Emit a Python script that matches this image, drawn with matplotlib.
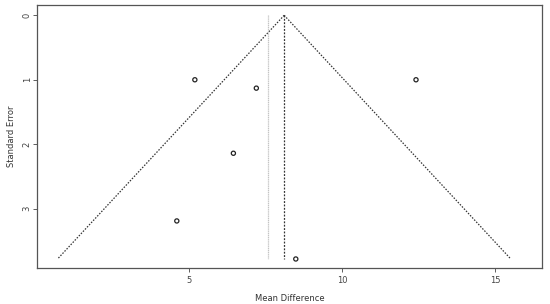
import numpy as np
import matplotlib.pyplot as plt

# study estimates for the funnel plot
mean_diff = [5.19, 7.20, 6.45, 4.60, 8.49, 12.42]
std_err = [1.00, 1.13, 2.14, 3.19, 3.78, 1.00]

fixed_est = 8.11
random_est = 7.57
se_max = 3.78

x_ticks = [5, 10, 15]
y_ticks = [0, 1, 2, 3]

fig = plt.figure(figsize=(5.5, 3.04), dpi=100)
ax = fig.add_axes([0.0673, 0.1184, 0.9182, 0.8652])

# pseudo confidence region
se = np.array([0, se_max])
ax.plot(fixed_est - 1.96 * se, se, color='#333333', ls=(0, (1.2, 1.2)), lw=0.9)
ax.plot(fixed_est + 1.96 * se, se, color='#333333', ls=(0, (1.2, 1.2)), lw=0.9)

# fixed and random effect lines
ax.plot([fixed_est, fixed_est], [0, se_max], color='#333333', ls=(0, (1.5, 1.2)), lw=0.9)
ax.plot([random_est, random_est], [0, se_max], color='#c4c4c4', ls=(0, (1, 0.5)), lw=0.9)

ax.scatter(mean_diff, std_err, s=9, facecolors='none', edgecolors='#222222', linewidths=0.9, zorder=3)

ax.set_xlim(0.03, 16.54)
ax.set_ylim(3.92, -0.16)
ax.set_xticks(x_ticks)
ax.set_yticks(y_ticks)
ax.tick_params(labelsize=6, length=3, width=0.6, colors='#444444', pad=3)
ax.tick_params(axis='y', pad=4)
for lab in ax.get_yticklabels():
    lab.set_rotation(90)
    lab.set_va('center')
    lab.set_ha('center')
ax.set_xlabel('Mean Difference', fontsize=6, color='#333333', labelpad=6)
ax.set_ylabel('Standard Error', fontsize=6, color='#333333')
ax.yaxis.set_label_coords(-0.042, 0.5)
for s in ax.spines.values():
    s.set_color('#555555')
    s.set_linewidth(0.9)

fig.savefig('out.png', dpi=100)
